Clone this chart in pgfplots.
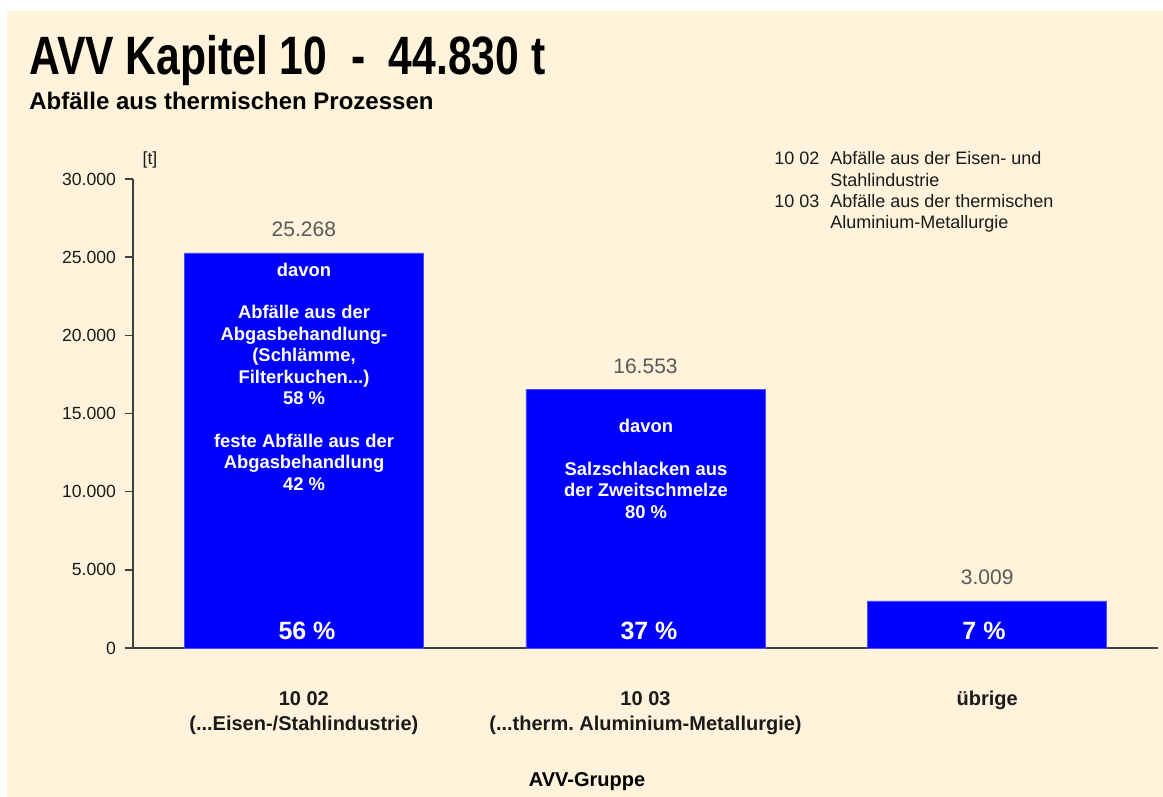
\documentclass[border=0pt]{standalone}
\usepackage{fontspec}
\setmainfont{Liberation Sans}
\usepackage{pgfplots}
\pgfplotsset{compat=1.18}
\definecolor{cream}{RGB}{255,244,219}
\definecolor{barblue}{RGB}{0,0,255}
\definecolor{axgray}{RGB}{64,64,64}
\definecolor{valgray}{RGB}{89,89,89}
\definecolor{txt}{RGB}{26,26,26}
\frenchspacing

\begin{document}
\begin{tikzpicture}
% layout in pixels of the reference: 1px = 0.5pt, y downwards
\begin{scope}[x=0.5pt,y=-0.5pt]
  \fill[white] (0,0) rectangle (1163,797);
  \fill[cream] (7,11) rectangle (1163,797);
  \node[anchor=base west, inner sep=0pt, text=black, font=\bfseries\fontsize{27}{27}\selectfont]
    at (29,75) {\scalebox{0.79}[1]{AVV Kapitel 10\ \ -\ \ 44.830 t}};
  \node[anchor=base west, inner sep=0pt, text=black, font=\bfseries\fontsize{12}{12}\selectfont]
    at (29,110) {Abfälle aus thermischen Prozessen};
  \node[anchor=base, inner sep=0pt, text=txt, font=\fontsize{8.8}{8.8}\selectfont] at (150,164) {[t]};
  % explanation block, top right
  \begin{scope}[every node/.style={anchor=base west, inner sep=0pt, text=txt, font=\fontsize{9}{9}\selectfont}]
    \node at (774,165) {10 02};
    \node at (830,165) {Abfälle aus der Eisen- und};
    \node at (830,186) {Stahlindustrie};
    \node at (774,207) {10 03};
    \node at (830,207) {Abfälle aus der thermischen};
    \node at (830,228) {Aluminium-Metallurgie};
  \end{scope}
\end{scope}

\begin{axis}[
  at={(66.5pt,-324pt)}, anchor=south west,
  scale only axis, width=512.5pt, height=234.5pt,
  xmin=-0.5, xmax=2.5, ymin=0, ymax=30000,
  axis x line*=bottom, axis y line*=left,
  axis line style={-, draw=axgray, line width=0.8pt},
  ybar, bar width=0.7,
  clip=false,
  xtick={0,1,2},
  xticklabels={{10 02\\(.{}.{}.Eisen-/Stahlindustrie)},{10 03\\(.{}.{}.therm. Aluminium-Metallurgie)},{übrige}},
  xtick style={draw=none},
  xticklabel style={align=center, anchor=north, text=txt,
    font=\bfseries\fontsize{10}{12.5}\selectfont, yshift=-14pt},
  ytick={0,5000,10000,15000,20000,25000,30000},
  scaled y ticks=false,
  tick align=outside, major tick length=4pt,
  ytick style={draw=axgray, line width=0.8pt},
  yticklabel style={text=txt, font=\fontsize{8.8}{8.8}\selectfont, xshift=-1pt},
  /pgf/number format/.cd, 1000 sep={.}, assume math mode=true,
]
\addplot[fill=barblue, draw=barblue!70!white, line width=0.3pt,
  nodes near coords={\pgfmathprintnumber[fixed, precision=0, 1000 sep={.}, assume math mode=true]{\pgfplotspointmeta}},
  nodes near coords style={anchor=base, inner sep=0pt, yshift=8pt, text=valgray, font=\fontsize{10.5}{10.5}\selectfont}]
  coordinates {(0,25268) (1,16553) (2,3009)};
\end{axis}

\begin{scope}[x=0.5pt,y=-0.5pt]
  % texts inside the bars (base = baseline of the last line)
  \node[anchor=base, inner sep=0pt, align=center, text=white, font=\bfseries\fontsize{9.2}{10.7}\selectfont] at (304,490)
    {davon\\[10.7pt]Abfälle aus der\\Abgasbehandlung-\\(Schlämme,\\Filterkuchen...)\\58 \%\\[10.7pt]feste Abfälle aus der\\Abgasbehandlung\\42 \%};
  \node[anchor=base, inner sep=0pt, align=center, text=white, font=\bfseries\fontsize{9.2}{10.7}\selectfont] at (646,518)
    {davon\\[10.7pt]Salzschlacken aus\\der Zweitschmelze\\80 \%};
  \begin{scope}[every node/.style={anchor=base, inner sep=0pt, text=white, font=\bfseries\fontsize{12.5}{12.5}\selectfont}]
    \node at (307,639) {56 \%};
    \node at (649,639) {37 \%};
    \node at (984,639) {7 \%};
  \end{scope}
  \node[anchor=base, inner sep=0pt, text=black, font=\bfseries\fontsize{10}{10}\selectfont] at (587,786) {AVV-Gruppe};
\end{scope}
\end{tikzpicture}
\end{document}
